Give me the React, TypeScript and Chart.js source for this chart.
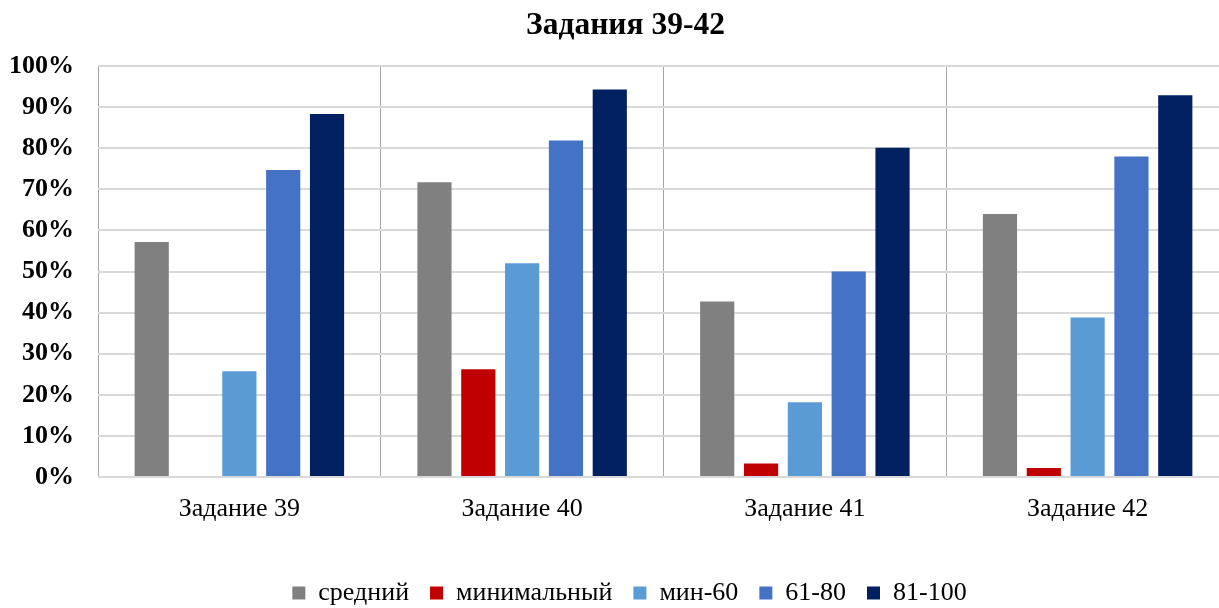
import React, { useEffect, useRef } from "react";
import { Chart, registerables } from "chart.js";

Chart.register(...registerables);

const TITLE = "Задания 39-42";
const categories = ["Задание 39", "Задание 40", "Задание 41", "Задание 42"];
const seriesNames = ["средний", "минимальный", "мин-60", "61-80", "81-100"];
const avgValues = [57.2, 71.7, 42.7, 64.0];
const minValues = [0, 26.2, 3.3, 2.2];
const min60Values = [25.7, 52.0, 18.2, 38.8];
const v61to80 = [74.7, 81.9, 50.0, 78.0];
const v81to100 = [88.3, 94.3, 80.1, 92.9];
const yTicks = [0, 10, 20, 30, 40, 50, 60, 70, 80, 90, 100];

const seriesColors = ["#808080", "#C00000", "#5B9BD5", "#4472C4", "#002060"];
const FONT = "'Liberation Serif', 'Times New Roman', serif";

const nudge = {
  id: "nudge",
  afterLayout(chart: any) {
    const t = chart.titleBlock;
    if (t) {
      t.left += 11;
      t.right += 11;
    }
    const l = chart.legend;
    if (l) {
      l.left += 15;
      l.right += 15;
      l.top += 8;
      l.bottom += 8;
    }
  },
};

export default function App() {
  const ref = useRef<HTMLCanvasElement | null>(null);

  useEffect(() => {
    if (!ref.current) return;
    const all = [avgValues, minValues, min60Values, v61to80, v81to100];
    const chart = new Chart(ref.current, {
      type: "bar",
      data: {
        labels: categories,
        datasets: seriesNames.map((name, i) => ({
          label: name,
          data: all[i],
          backgroundColor: seriesColors[i],
          borderWidth: 0,
          categoryPercentage: 0.775,
          barPercentage: 0.78,
        })),
      },
      plugins: [nudge],
      options: {
        animation: false,
        responsive: true,
        maintainAspectRatio: false,
        layout: { padding: { left: 0, right: 11, top: 0, bottom: 0 } },
        plugins: {
          tooltip: { enabled: false },
          title: {
            display: true,
            text: TITLE,
            color: "#000",
            font: { family: FONT, size: 31.5, weight: "bold" },
            padding: { top: 7, bottom: 21.2 },
          },
          legend: {
            display: true,
            position: "bottom",
            labels: {
              color: "#000",
              font: { family: FONT, size: 26 },
              boxWidth: 13,
              boxHeight: 13,
              padding: 21,
            },
          },
        },
        scales: {
          x: {
            offset: true,
            grid: {
              offset: true,
              color: "#A6A6A6",
              lineWidth: 1,
              drawTicks: false,
            },
            border: { display: false },
            ticks: {
              color: "#000",
              font: { family: FONT, size: 26 },
              padding: 17,
              maxRotation: 0,
            },
            afterFit: (scale: any) => {
              scale.height = 74;
            },
          },
          y: {
            min: 0,
            max: 100,
            afterBuildTicks: (scale: any) => {
              scale.ticks = yTicks.map((v) => ({ value: v }));
            },
            grid: { color: "#D9D9D9", lineWidth: 2, drawTicks: false },
            border: { display: false },
            ticks: {
              color: "#000",
              font: { family: FONT, size: 26, weight: "bold" },
              padding: 24,
              callback: (v: any) => `${v}%`,
            },
            afterFit: (scale: any) => {
              scale.width = 98;
            },
          },
        },
      },
    });
    return () => chart.destroy();
  }, []);

  return (
    <div
      style={{
        position: "absolute",
        left: 0,
        top: 0,
        width: 1219,
        height: 608,
        overflow: "hidden",
        background: "#fff",
      }}
    >
      <div style={{ position: "relative", width: 1240, height: 608 }}>
        <canvas ref={ref} />
      </div>
    </div>
  );
}
